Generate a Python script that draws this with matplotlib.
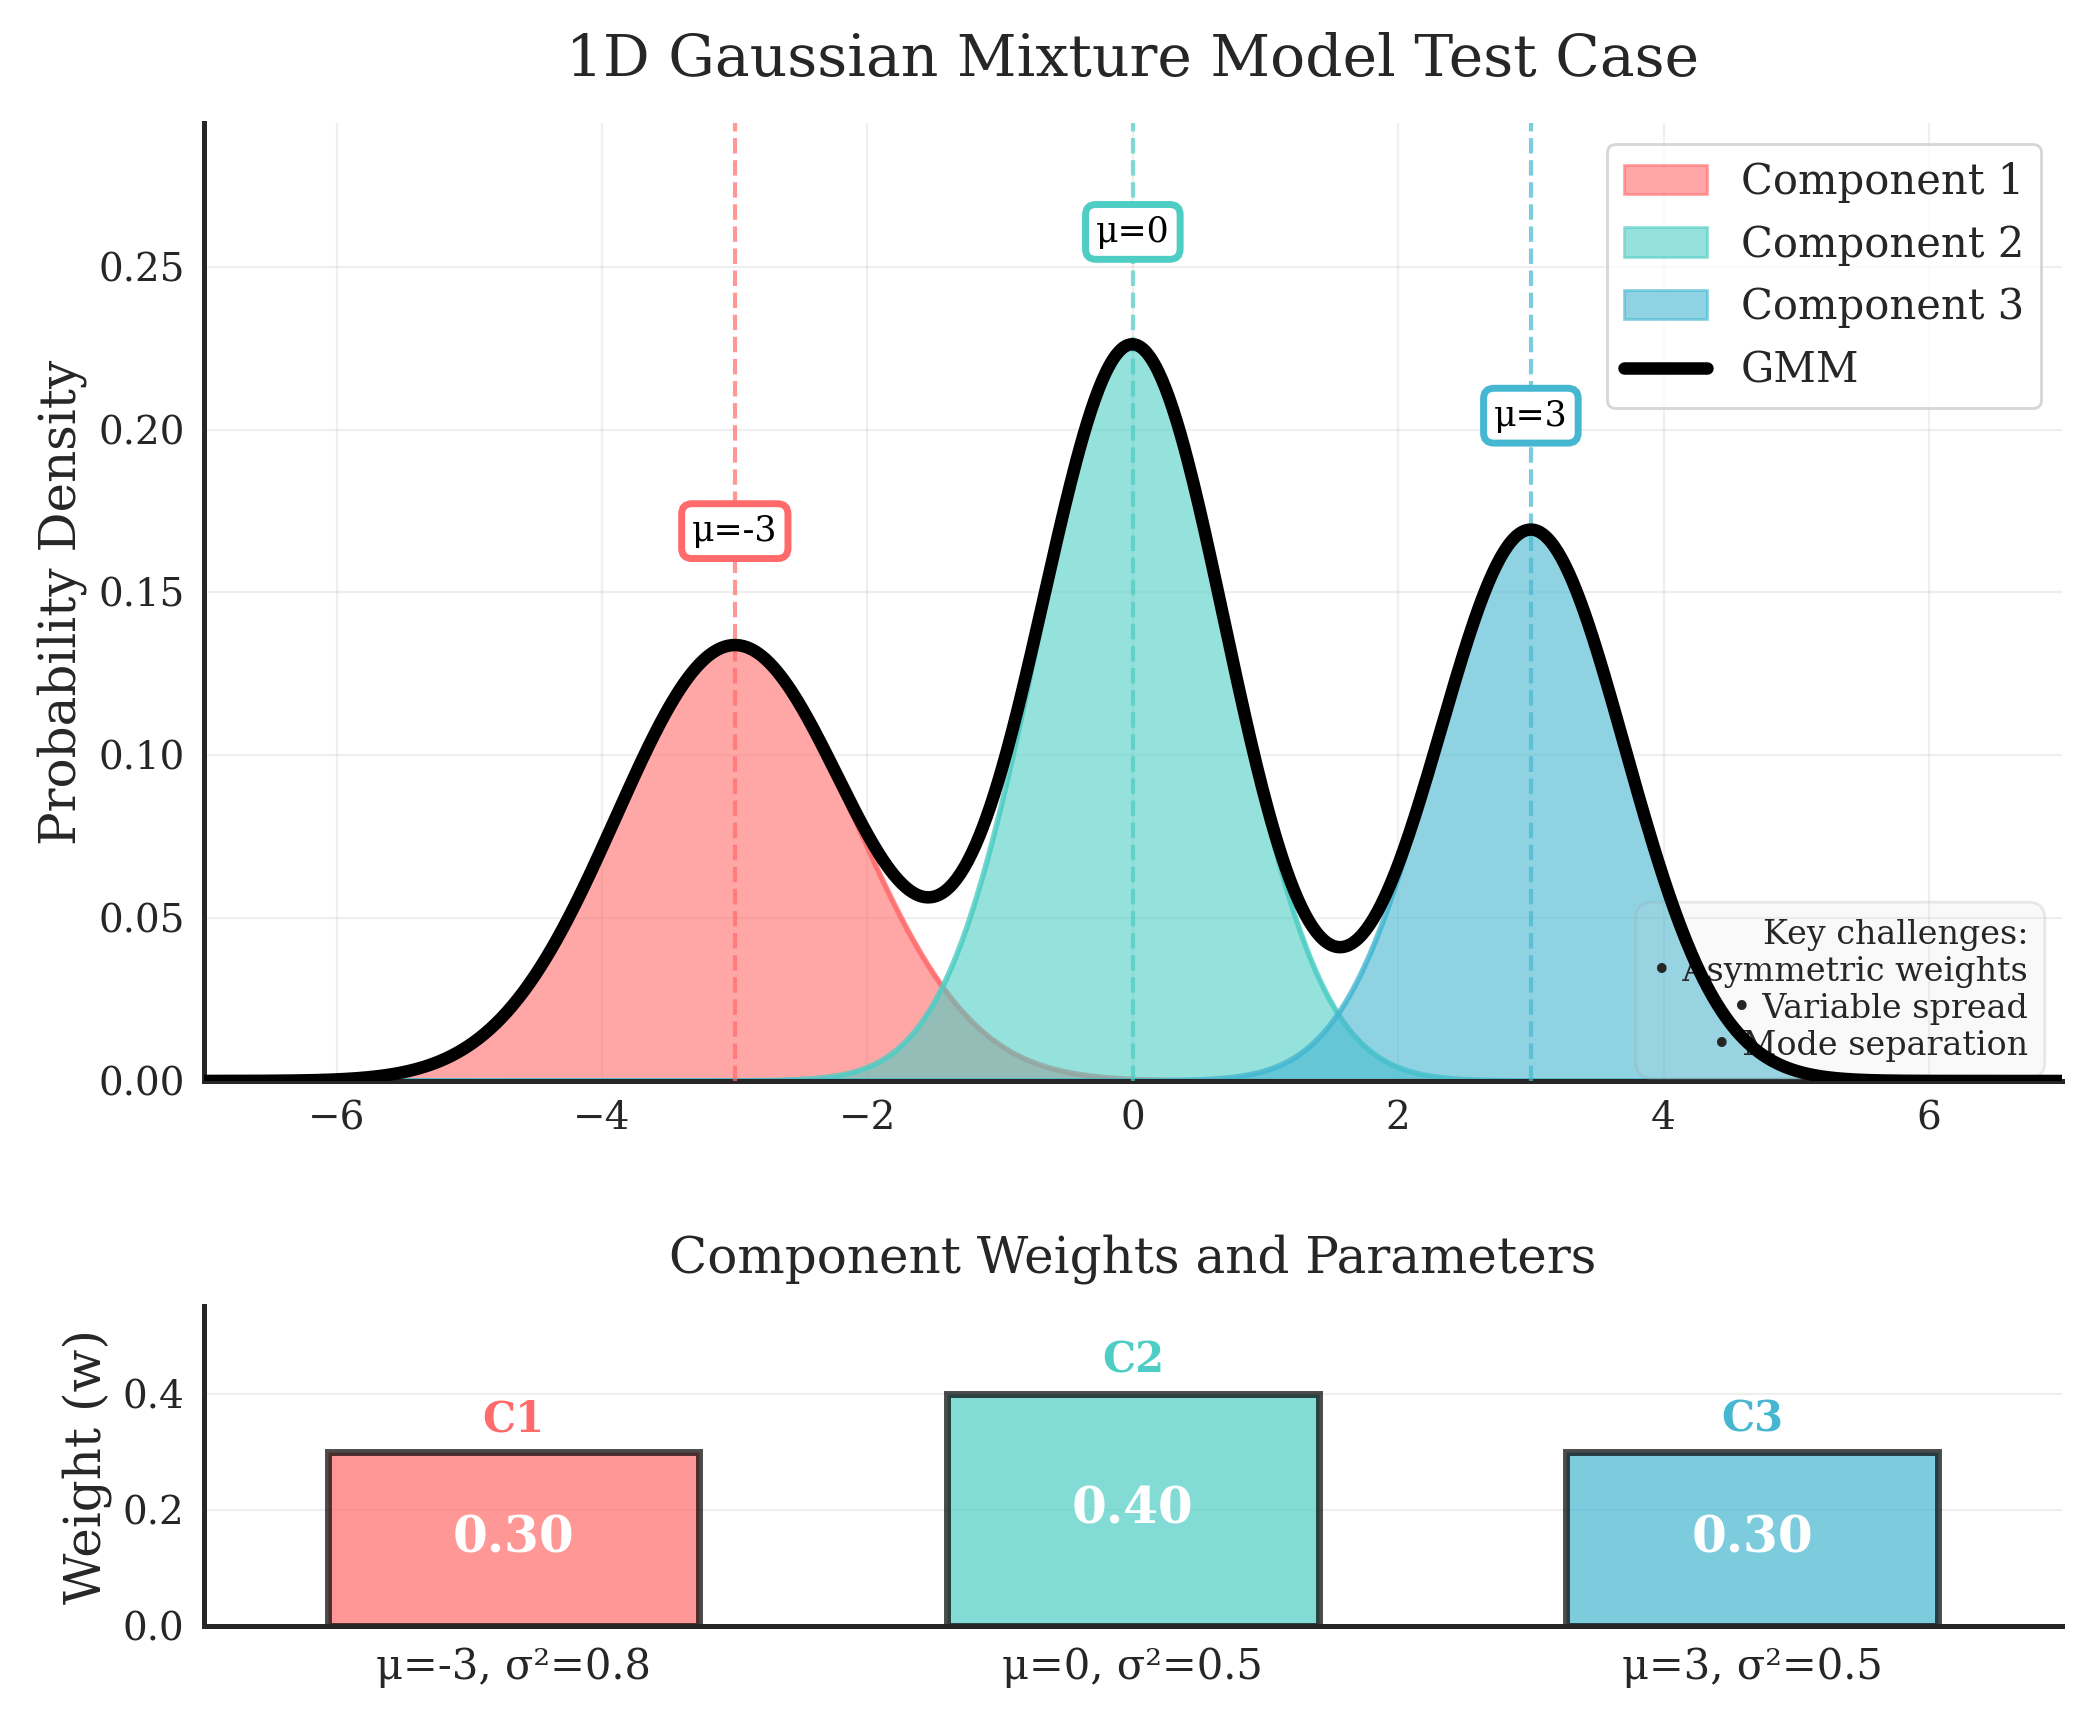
import numpy as np
import matplotlib
matplotlib.use("Agg")
import matplotlib.pyplot as plt
import seaborn as sns

# ---- data ----
component_names = ["Component 1", "Component 2", "Component 3"]
short_names = ["C1", "C2", "C3"]
weights = [0.30, 0.40, 0.30]
means = [-3.0, 0.0, 3.0]
variances = [0.8, 0.5, 0.5]
bar_labels = ["μ=-3, σ²=0.8", "μ=0, σ²=0.5", "μ=3, σ²=0.5"]
challenges = ["Asymmetric weights", "Variable spread", "Mode separation"]
colors = ["#FF6B6B", "#4ECDC4", "#45B7D1"]

sns.set_style("white")
plt.rcParams['font.family'] = ['DejaVu Serif']
plt.rcParams['text.color'] = '#262626'
plt.rcParams['axes.labelcolor'] = '#262626'
plt.rcParams['xtick.color'] = '#262626'
plt.rcParams['ytick.color'] = '#262626'

x = np.linspace(-7, 7, 1000)
comps = [w / np.sqrt(2 * np.pi * v) * np.exp(-(x - m) ** 2 / (2 * v))
         for w, m, v in zip(weights, means, variances)]
gmm = np.sum(comps, axis=0)

fig = plt.figure(figsize=(10.465, 8.56), dpi=200)
ax1 = fig.add_axes([0.0975, 0.3686, 0.8875, 0.5594])
ax2 = fig.add_axes([0.0975, 0.050, 0.8875, 0.187])

for i in range(3):
    ax1.fill_between(x, comps[i], color=colors[i], alpha=0.6, label=component_names[i], zorder=2)
    ax1.plot(x, comps[i], color=colors[i], lw=2, alpha=0.8, zorder=2)
ax1.plot(x, gmm, color='black', lw=4.5, label='GMM', zorder=5)

for i in range(3):
    ax1.axvline(means[i], color=colors[i], ls='--', lw=1.5, alpha=0.7, zorder=3)
    peak = weights[i] / np.sqrt(2 * np.pi * variances[i])
    ax1.text(means[i], peak + 0.035, f"μ={means[i]:g}", ha='center', va='center',
             fontsize=12.5, color='black', zorder=6,
             bbox=dict(boxstyle='round,pad=0.3', facecolor='white', edgecolor=colors[i], lw=2.5))

ax1.set_xlim(-7, 7)
ax1.set_ylim(0, gmm.max() * 1.3)
ax1.set_ylabel("Probability Density", fontsize=18)
ax1.set_title("1D Gaussian Mixture Model Test Case", fontsize=21, pad=17)
ax1.grid(True, alpha=0.3)
ax1.tick_params(labelsize=14)
leg = ax1.legend(loc='upper right', fontsize=15, frameon=True, fancybox=True)
leg.get_frame().set_edgecolor('#cccccc')

txt = "Key challenges:\n" + "\n".join("• " + c for c in challenges)
ax1.text(0.982, 0.02, txt, transform=ax1.transAxes, ha='right', va='bottom',
         fontsize=12, zorder=4, linespacing=1.2,
         bbox=dict(boxstyle='round,pad=0.5', facecolor=(0.83, 0.83, 0.83, 0.12),
                   edgecolor=(0.6, 0.6, 0.6, 0.2)))

for sp in ['top', 'right']:
    ax1.spines[sp].set_visible(False)
    ax2.spines[sp].set_visible(False)
for ax in (ax1, ax2):
    for sp in ['left', 'bottom']:
        ax.spines[sp].set_color('#262626')
        ax.spines[sp].set_linewidth(1.8)

pos = np.arange(3)
bars = ax2.bar(pos, weights, width=0.6, color=colors, alpha=0.7, edgecolor='black', linewidth=2.5)
for i, b in enumerate(bars):
    ax2.text(pos[i], weights[i] / 2, f"{weights[i]:.2f}", ha='center', va='center',
             fontsize=18, fontweight='bold', color='white')
    ax2.text(pos[i], weights[i] + 0.02, short_names[i], ha='center', va='bottom',
             fontsize=15, fontweight='bold', color=colors[i])
ax2.set_xticks(pos)
ax2.set_xticklabels(bar_labels)
ax2.set_xlim(-0.5, 2.5)
ax2.set_ylim(0, 0.55)
ax2.set_yticks([0.0, 0.2, 0.4])
ax2.set_ylabel("Weight (w)", fontsize=18)
ax2.set_title("Component Weights and Parameters", fontsize=18, pad=12)
ax2.grid(True, axis='y', alpha=0.3)
ax2.tick_params(labelsize=15)
ax2.tick_params(axis='y', labelsize=14)

fig.savefig("out.png", dpi=200)
